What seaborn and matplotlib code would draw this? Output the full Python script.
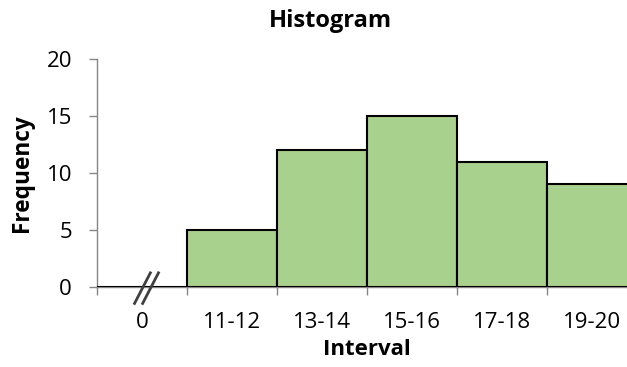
import matplotlib
matplotlib.use("Agg")
import matplotlib.pyplot as plt
import seaborn as sns
import pandas as pd

categories = ["0", "11-12", "13-14", "15-16", "17-18", "19-20"]
frequency = [0, 5, 12, 15, 11, 9]
y_ticks = [0, 5, 10, 15, 20]

sns.set_theme(style="white")
plt.rcParams["font.family"] = ["Open Sans", "DejaVu Sans"]

W, H = 627, 367
fig = plt.figure(figsize=(W / 100, H / 100), dpi=100)
left, right, top, bottom = 97, 637, 59, 287
ax = fig.add_axes([left / W, (H - bottom) / H, (right - left) / W, (bottom - top) / H])

df = pd.DataFrame({"Interval": categories, "Frequency": frequency})
sns.barplot(data=df, x="Interval", y="Frequency", order=categories, width=1.0,
            color="#A9D18E", saturation=1, edgecolor="black", linewidth=1.5, ax=ax)

ax.set_xlim(-0.5, len(categories) - 0.5)
ax.set_ylim(0, 20)
ax.set_yticks(y_ticks)

grey = "#868686"
for s in ["top", "right"]:
    ax.spines[s].set_visible(False)
for s in ["left", "bottom"]:
    ax.spines[s].set_color(grey)
    ax.spines[s].set_linewidth(1.0)
    ax.spines[s].set_zorder(0.5)

ax.set_xticks([i - 0.5 for i in range(len(categories) + 1)], minor=True)
ax.tick_params(axis="x", which="major", length=0, pad=18, labelsize=16, colors="black")
ax.tick_params(axis="x", which="minor", length=6, width=1, color=grey, direction="out", bottom=True)
ax.tick_params(axis="y", which="major", length=6, width=1, color=grey, direction="out", left=True,
               pad=12, labelsize=16, labelcolor="black")

ax.set_xlabel("Interval", fontsize=16, fontweight="bold", labelpad=4, color="black")
ax.set_ylabel("Frequency", fontsize=16.3, fontweight="bold", labelpad=9, color="black")

fig.text(330 / W, 1 - 21 / H, "Histogram", ha="center", va="center",
         fontsize=17, fontweight="bold", color="black")

# axis break mark "//"
for dx in (0.0, 0.09):
    ax.plot([-0.09 + dx, 0.1 + dx], [-1.55, 1.35], color="#404040", lw=2,
            clip_on=False, solid_capstyle="butt", zorder=5)

fig.savefig("out.png", dpi=100)
